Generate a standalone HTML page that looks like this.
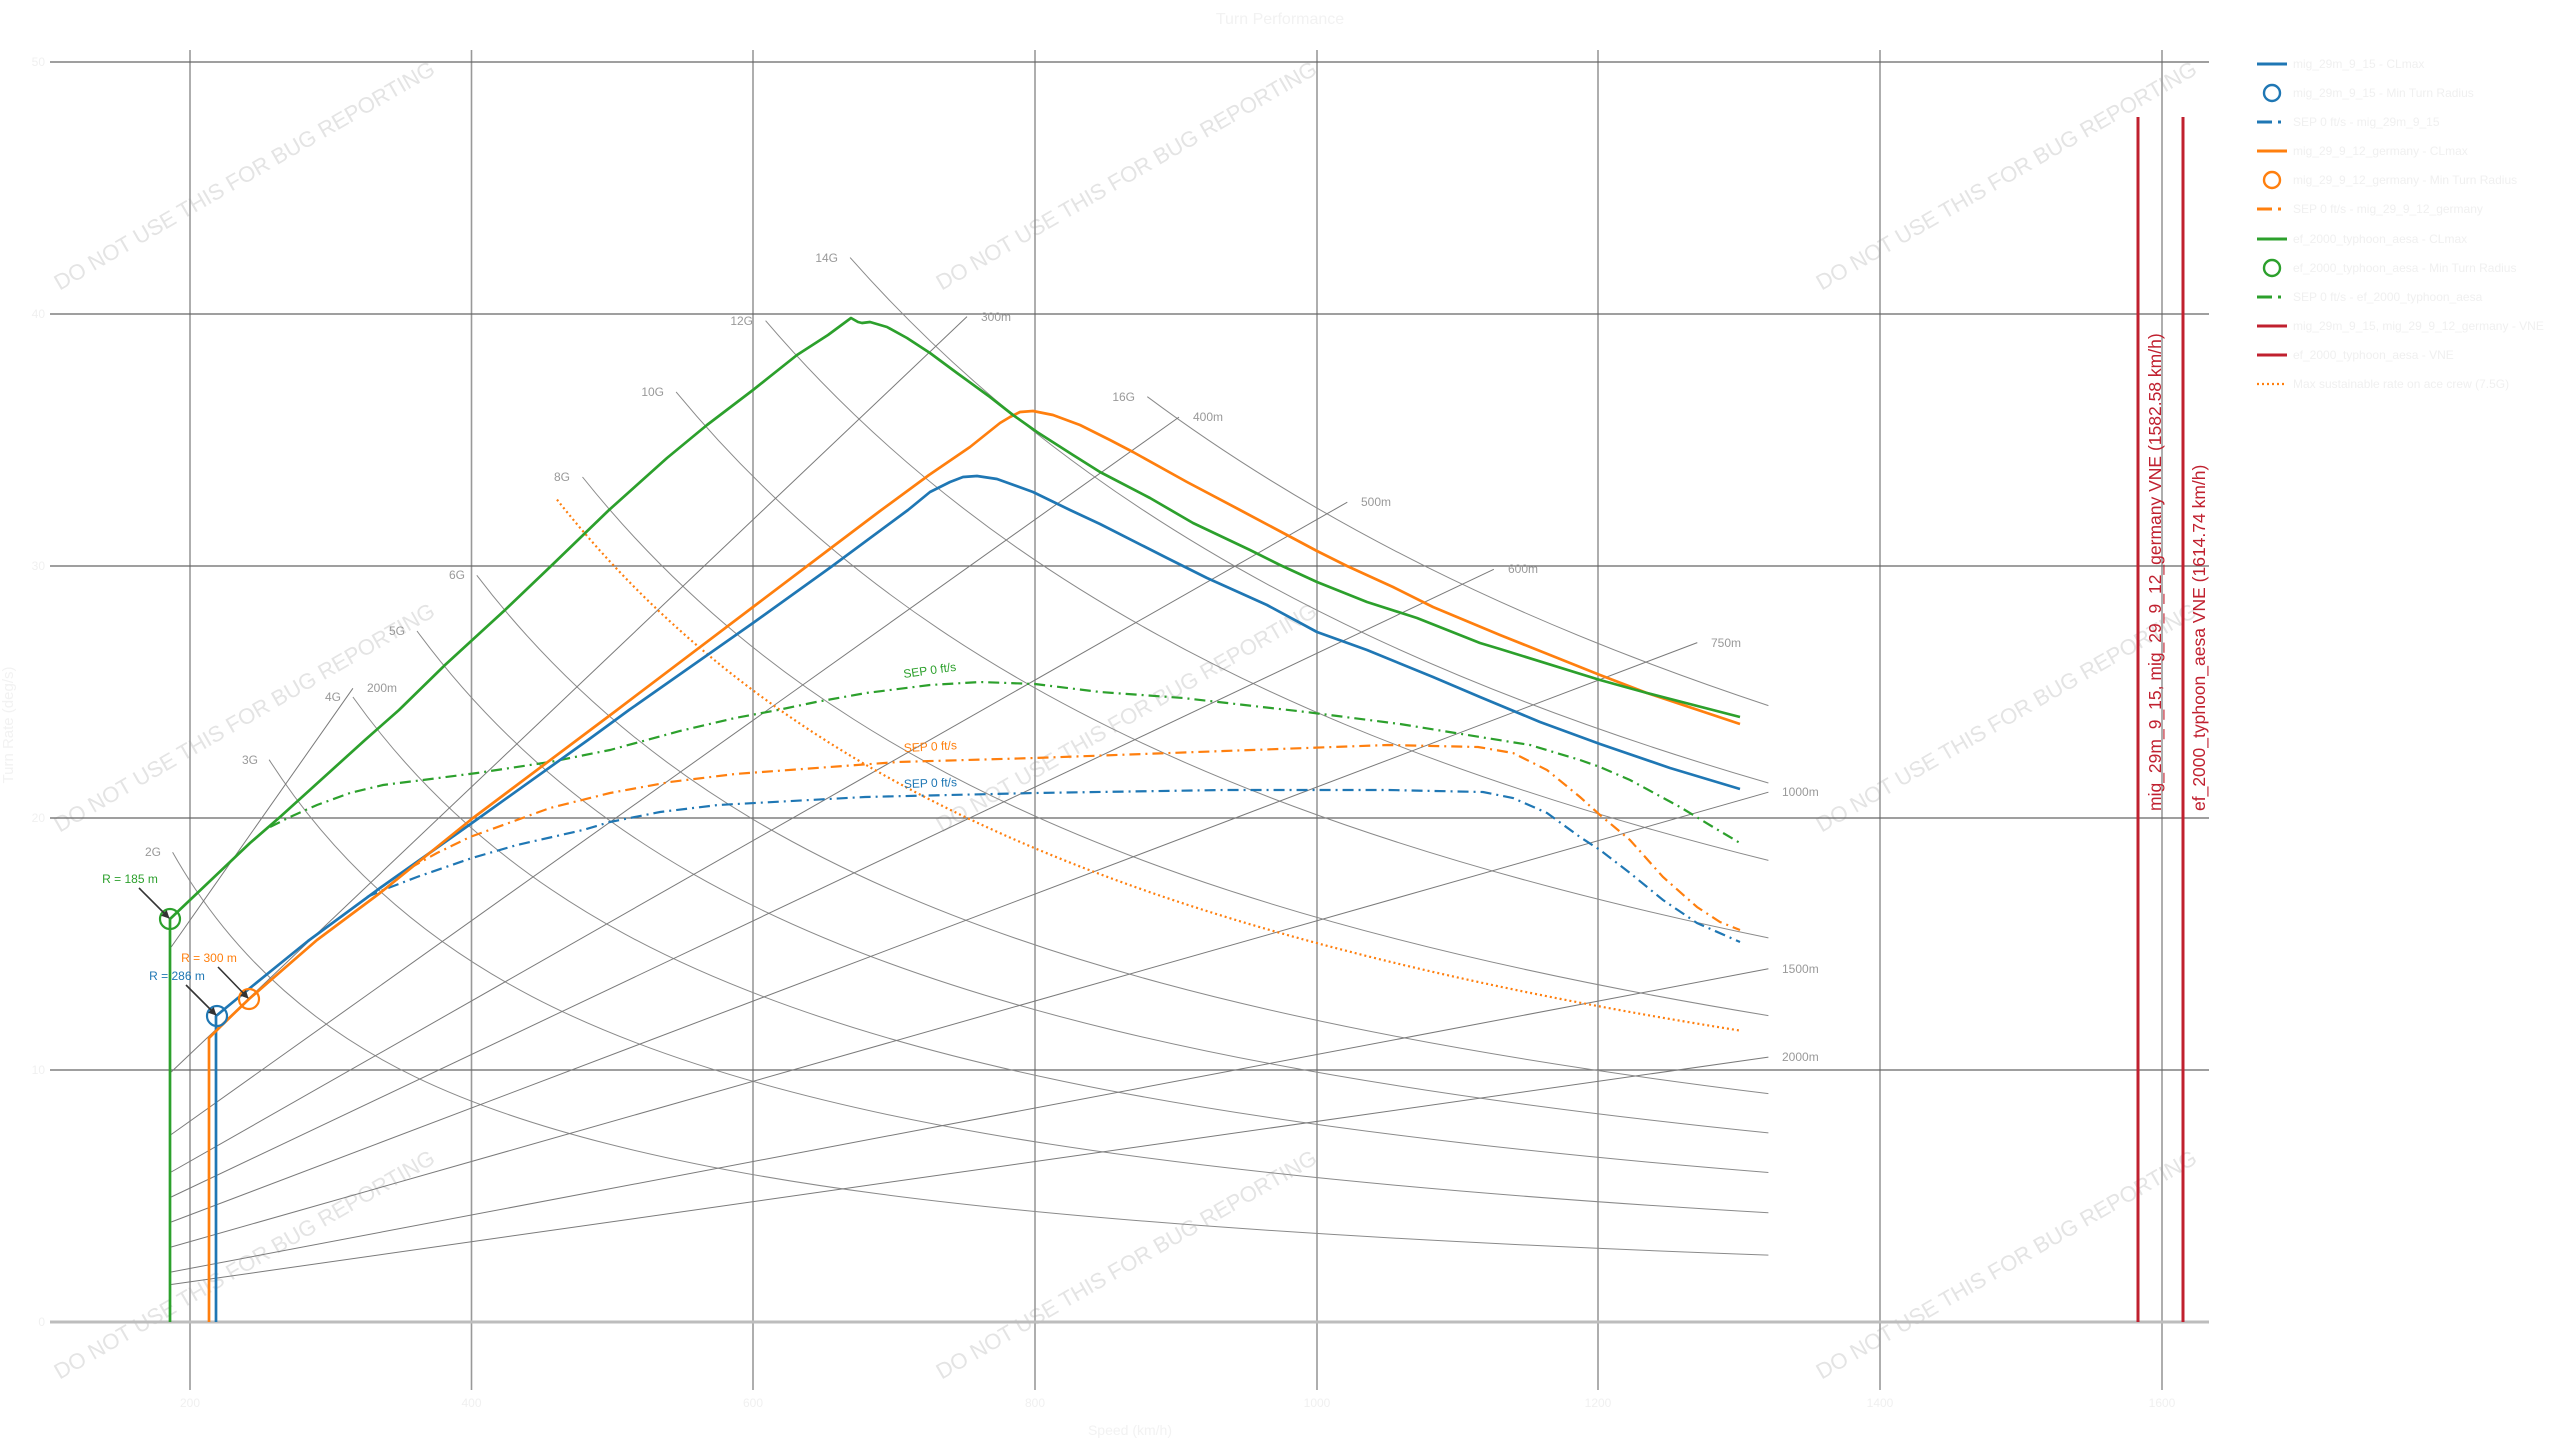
<!DOCTYPE html>
<html>
<head>
<meta charset="utf-8">
<style>
html,body{margin:0;padding:0;background:#ffffff;}
svg{display:block;}
text{font-family:"Liberation Sans",Arial,sans-serif;}
</style>
</head>
<body>
<svg width="2560" height="1440" viewBox="0 0 2560 1440" xmlns="http://www.w3.org/2000/svg">
<defs>
<marker id="ah" viewBox="0 0 10 10" refX="9" refY="5" markerWidth="8" markerHeight="8" markerUnits="userSpaceOnUse" orient="auto">
<path d="M0,0 L10,5 L0,10 z" fill="#333"/>
</marker>
</defs>
<rect width="2560" height="1440" fill="#fff"/>

<!-- watermarks -->
<g font-size="22" fill="#e4e4e4" text-anchor="middle">
<text transform="translate(248,182) rotate(-30)">DO NOT USE THIS FOR BUG REPORTING</text>
<text transform="translate(1130,182) rotate(-30)">DO NOT USE THIS FOR BUG REPORTING</text>
<text transform="translate(2010,182) rotate(-30)">DO NOT USE THIS FOR BUG REPORTING</text>
<text transform="translate(248,724) rotate(-30)">DO NOT USE THIS FOR BUG REPORTING</text>
<text transform="translate(1130,724) rotate(-30)">DO NOT USE THIS FOR BUG REPORTING</text>
<text transform="translate(2010,724) rotate(-30)">DO NOT USE THIS FOR BUG REPORTING</text>
<text transform="translate(248,1271) rotate(-30)">DO NOT USE THIS FOR BUG REPORTING</text>
<text transform="translate(1130,1271) rotate(-30)">DO NOT USE THIS FOR BUG REPORTING</text>
<text transform="translate(2010,1271) rotate(-30)">DO NOT USE THIS FOR BUG REPORTING</text>
</g>

<!-- title & axis labels -->
<text x="1280" y="24" font-size="16" fill="#f2f2f2" text-anchor="middle">Turn Performance</text>
<text x="1130" y="1435" font-size="14" fill="#f2f2f2" text-anchor="middle">Speed (km/h)</text>
<text transform="translate(13,725) rotate(-90)" font-size="15" fill="#f2f2f2" text-anchor="middle">Turn Rate (deg/s)</text>
<g font-size="12" fill="#f0f0f0" text-anchor="end">
<text x="45" y="66">50</text>
<text x="45" y="318">40</text>
<text x="45" y="570">30</text>
<text x="45" y="822">20</text>
<text x="45" y="1074">10</text>
<text x="45" y="1326">0</text>
</g>
<g font-size="12" fill="#f0f0f0" text-anchor="middle">
<text x="190" y="1407">200</text>
<text x="471.5" y="1407">400</text>
<text x="753" y="1407">600</text>
<text x="1035" y="1407">800</text>
<text x="1317" y="1407">1000</text>
<text x="1598" y="1407">1200</text>
<text x="1880" y="1407">1400</text>
<text x="2162" y="1407">1600</text>
</g>

<!-- grid -->
<g stroke="#999" stroke-width="1.6">
<line x1="190" y1="50" x2="190" y2="1390"/>
<line x1="471.5" y1="50" x2="471.5" y2="1390"/>
<line x1="753" y1="50" x2="753" y2="1390"/>
<line x1="1035" y1="50" x2="1035" y2="1390"/>
<line x1="1317" y1="50" x2="1317" y2="1390"/>
<line x1="1598" y1="50" x2="1598" y2="1390"/>
<line x1="1880" y1="50" x2="1880" y2="1390"/>
<line x1="2162" y1="50" x2="2162" y2="1390"/>
</g>
<g stroke="#666" stroke-width="1.3">
<line x1="50" y1="62" x2="2209" y2="62"/>
<line x1="50" y1="314" x2="2209" y2="314"/>
<line x1="50" y1="566" x2="2209" y2="566"/>
<line x1="50" y1="818" x2="2209" y2="818"/>
<line x1="50" y1="1070" x2="2209" y2="1070"/>
</g>
<line x1="50" y1="1322" x2="2209" y2="1322" stroke="#bdbdbd" stroke-width="3"/>

<!-- G lines -->
<g fill="none" stroke="#8a8a8a" stroke-width="1">
<path d="M172.6,852.2 Q255.8,999.8 415.1,1076.8 Q574.4,1153.8 879.8,1194.0 Q1184.8,1234.2 1768.4,1255.1"/>
<path d="M269.1,759.7 Q365.4,909.6 531.8,996.4 Q698.1,1083.2 985.4,1133.5 Q1272.6,1183.7 1768.4,1212.8"/>
<path d="M352.9,697.0 Q457.1,843.3 624.9,934.1 Q792.6,1024.8 1062.9,1081.2 Q1333.2,1137.5 1768.4,1172.5"/>
<path d="M417.0,631.0 Q525.3,777.9 691.9,873.3 Q858.7,968.7 1115.4,1030.6 Q1372.5,1092.7 1768.4,1132.9"/>
<path d="M476.8,575.3 Q587.7,720.8 752.3,818.9 Q917.0,917.0 1161.4,983.0 Q1405.7,1049.1 1768.4,1093.6"/>
<path d="M582.5,477.0 Q695.6,618.6 854.0,719.5 Q1012.6,820.5 1234.9,892.4 Q1457.0,964.3 1768.4,1015.6"/>
<path d="M676.1,391.9 Q788.7,528.1 939.8,629.6 Q1090.9,731.0 1294.0,806.5 Q1496.6,881.8 1768.4,937.9"/>
<path d="M765.6,320.7 Q875.7,449.3 1018.4,548.7 Q1161.1,648.0 1345.7,724.7 Q1530.0,801.2 1768.4,860.4"/>
<path d="M850.1,257.6 Q956.4,377.8 1090.0,473.6 Q1223.3,569.4 1390.8,645.7 Q1558.3,722.1 1768.4,783.0"/>
<path d="M1147.3,396.7 Q1272.8,490.3 1426.4,566.8 Q1580.1,643.2 1768.4,705.6"/>
</g>
<!-- radius lines -->
<g stroke="#7a7a7a" stroke-width="1">
<line x1="171.2" y1="947.0" x2="352.9" y2="688.3"/>
<line x1="171.2" y1="1072.0" x2="967.0" y2="316.6"/>
<line x1="171.2" y1="1134.5" x2="1179.0" y2="417.1"/>
<line x1="171.2" y1="1172.0" x2="1347.3" y2="502.2"/>
<line x1="171.2" y1="1197.0" x2="1493.8" y2="569.3"/>
<line x1="171.2" y1="1222.0" x2="1697.3" y2="642.6"/>
<line x1="171.2" y1="1247.0" x2="1768.4" y2="792.2"/>
<line x1="171.2" y1="1272.0" x2="1768.4" y2="968.8"/>
<line x1="171.2" y1="1284.5" x2="1768.4" y2="1057.1"/>
</g>
<!-- G labels -->
<g font-size="12" fill="#999" text-anchor="end" dominant-baseline="central">
<text x="161" y="852">2G</text>
<text x="258" y="760">3G</text>
<text x="341" y="697">4G</text>
<text x="405" y="631">5G</text>
<text x="465" y="575">6G</text>
<text x="570" y="477">8G</text>
<text x="664" y="392">10G</text>
<text x="753" y="321">12G</text>
<text x="838" y="258">14G</text>
<text x="1135" y="397">16G</text>
</g>
<!-- radius labels -->
<g font-size="12" fill="#999" dominant-baseline="central">
<text x="367" y="688">200m</text>
<text x="981" y="317">300m</text>
<text x="1193" y="417">400m</text>
<text x="1361" y="502">500m</text>
<text x="1508" y="569">600m</text>
<text x="1711" y="643">750m</text>
<text x="1782" y="792">1000m</text>
<text x="1782" y="969">1500m</text>
<text x="1782" y="1057">2000m</text>
</g>

<!-- max sustainable 7.5G dotted -->
<path d="M557.0,499.6 Q668.1,640.4 825.1,740.1 Q982.1,839.6 1203.9,910.1 Q1425.6,980.6 1738.9,1030.4" fill="none" stroke="#ff7f0e" stroke-width="2.2" stroke-dasharray="2 3"/>

<!-- SEP curves -->
<g fill="none" stroke-width="2.2" stroke-dasharray="11 5 2 5">
<polyline stroke="#2ca02c" points="270,827 280,822 290,817 317,805 350,793 383,785 423,780 477,773 550,762 610,750 680,731 735,718 778,710 816,702 866,693 930,685 980,682 1035,684 1100,692 1183,698 1306,712 1400,724 1480,737 1530,745 1580,760 1600,767 1630,780 1680,807 1713,827 1740,843"/>
<polyline stroke="#ff7f0e" points="410,868 437,853 470,837 517,820 550,808 610,793 670,782 735,774 898,762 1035,758 1224,751 1388,745 1478,747 1513,753 1547,770 1580,797 1600,815 1630,840 1663,877 1697,907 1720,922 1740,930"/>
<polyline stroke="#1f77b4" points="367,897 383,890 417,877 472,858 517,845 583,830 610,822 660,812 718,805 865,797 1035,793 1224,790 1388,790 1483,792 1513,798 1547,813 1580,837 1600,850 1630,873 1663,900 1697,923 1740,942"/>
</g>
<g font-size="12">
<text transform="translate(904,678) rotate(-8)" fill="#2ca02c">SEP 0 ft/s</text>
<text transform="translate(904,752) rotate(-3)" fill="#ff7f0e">SEP 0 ft/s</text>
<text transform="translate(904,788) rotate(-2)" fill="#1f77b4">SEP 0 ft/s</text>
</g>

<!-- CLmax curves -->
<g fill="none" stroke-width="2.7" stroke-linejoin="round">
<polyline stroke="#1f77b4" points="216,1322 216,1016 250,988 308,941 380,888 472,823 588,740 629,710 753,623 831,567 908,510 930,492 950,482 963,477 977,476 997,479 1033,492 1070,510 1100,524 1167,558 1207,578 1267,605 1317,632 1367,650 1433,677 1480,697 1540,722 1600,744 1670,768 1740,789"/>
<polyline stroke="#ff7f0e" points="209,1322 209,1038 220,1027 249,999 317,940 380,893 473,818 577,740 617,710 753,607 831,548 880,511 929,475 970,447 1000,423 1010,417 1020,412 1033,411 1053,415 1080,425 1110,440 1133,452 1187,482 1240,510 1287,535 1317,551 1347,566 1393,587 1433,607 1500,635 1600,675 1647,693 1740,724"/>
<polyline stroke="#2ca02c" points="170,1322 170,919 250,843 280,817 365,740 399,710 445,665 505,610 550,567 609,510 667,458 707,425 753,390 797,355 828,335 851,318 858,322 862,323 870,322 887,327 907,338 930,353 957,373 990,397 1013,415 1037,432 1073,455 1100,472 1150,498 1193,523 1250,550 1280,565 1317,582 1367,602 1417,618 1480,643 1500,649 1600,680 1647,693 1740,717"/>
</g>

<!-- min turn radius markers -->
<g fill="none" stroke-width="2.2">
<circle cx="170" cy="919" r="10" stroke="#2ca02c"/>
<circle cx="217" cy="1016" r="10" stroke="#1f77b4"/>
<circle cx="249" cy="999" r="10" stroke="#ff7f0e"/>
</g>
<g stroke="#333" stroke-width="1.6" marker-end="url(#ah)">
<line x1="139" y1="888" x2="169" y2="918"/>
<line x1="186" y1="985" x2="216" y2="1015"/>
<line x1="218" y1="967" x2="248" y2="998"/>
</g>
<g font-size="12" text-anchor="middle" dominant-baseline="central">
<text x="130" y="879" fill="#2ca02c">R = 185 m</text>
<text x="209" y="958" fill="#ff7f0e">R = 300 m</text>
<text x="177" y="976" fill="#1f77b4">R = 286 m</text>
</g>

<!-- VNE lines -->
<g stroke="#c0202f" stroke-width="3">
<line x1="2138" y1="117" x2="2138" y2="1322"/>
<line x1="2183" y1="117" x2="2183" y2="1322"/>
</g>
<g font-size="17.5" fill="#c0202f">
<text transform="translate(2161,811) rotate(-90)">mig_29m_9_15, mig_29_9_12_germany VNE (1582.58 km/h)</text>
<text transform="translate(2205,811) rotate(-90)">ef_2000_typhoon_aesa VNE (1614.74 km/h)</text>
</g>

<!-- legend -->
<g stroke-width="3" fill="none">
<line x1="2257" y1="64" x2="2287" y2="64" stroke="#1f77b4"/>
<circle cx="2272" cy="93" r="8" stroke="#1f77b4" stroke-width="2.4"/>
<line x1="2257" y1="122" x2="2272" y2="122" stroke="#1f77b4"/>
<line x1="2278" y1="122" x2="2281" y2="122" stroke="#1f77b4"/>
<line x1="2257" y1="151" x2="2287" y2="151" stroke="#ff7f0e"/>
<circle cx="2272" cy="180" r="8" stroke="#ff7f0e" stroke-width="2.4"/>
<line x1="2257" y1="209" x2="2272" y2="209" stroke="#ff7f0e"/>
<line x1="2278" y1="209" x2="2281" y2="209" stroke="#ff7f0e"/>
<line x1="2257" y1="239" x2="2287" y2="239" stroke="#2ca02c"/>
<circle cx="2272" cy="268" r="8" stroke="#2ca02c" stroke-width="2.4"/>
<line x1="2257" y1="297" x2="2272" y2="297" stroke="#2ca02c"/>
<line x1="2278" y1="297" x2="2281" y2="297" stroke="#2ca02c"/>
<line x1="2257" y1="326" x2="2287" y2="326" stroke="#c0202f"/>
<line x1="2257" y1="355" x2="2287" y2="355" stroke="#c0202f"/>
<line x1="2257" y1="384" x2="2285" y2="384" stroke="#ff7f0e" stroke-width="2.2" stroke-dasharray="2 3"/>
</g>
<g font-size="12" fill="#f0f0f0" dominant-baseline="central">
<text x="2293" y="64">mig_29m_9_15 - CLmax</text>
<text x="2293" y="93">mig_29m_9_15 - Min Turn Radius</text>
<text x="2293" y="122">SEP 0 ft/s - mig_29m_9_15</text>
<text x="2293" y="151">mig_29_9_12_germany - CLmax</text>
<text x="2293" y="180">mig_29_9_12_germany - Min Turn Radius</text>
<text x="2293" y="209">SEP 0 ft/s - mig_29_9_12_germany</text>
<text x="2293" y="239">ef_2000_typhoon_aesa - CLmax</text>
<text x="2293" y="268">ef_2000_typhoon_aesa - Min Turn Radius</text>
<text x="2293" y="297">SEP 0 ft/s - ef_2000_typhoon_aesa</text>
<text x="2293" y="326">mig_29m_9_15, mig_29_9_12_germany - VNE</text>
<text x="2293" y="355">ef_2000_typhoon_aesa - VNE</text>
<text x="2293" y="384">Max sustainable rate on ace crew (7.5G)</text>
</g>
</svg>
</body>
</html>
